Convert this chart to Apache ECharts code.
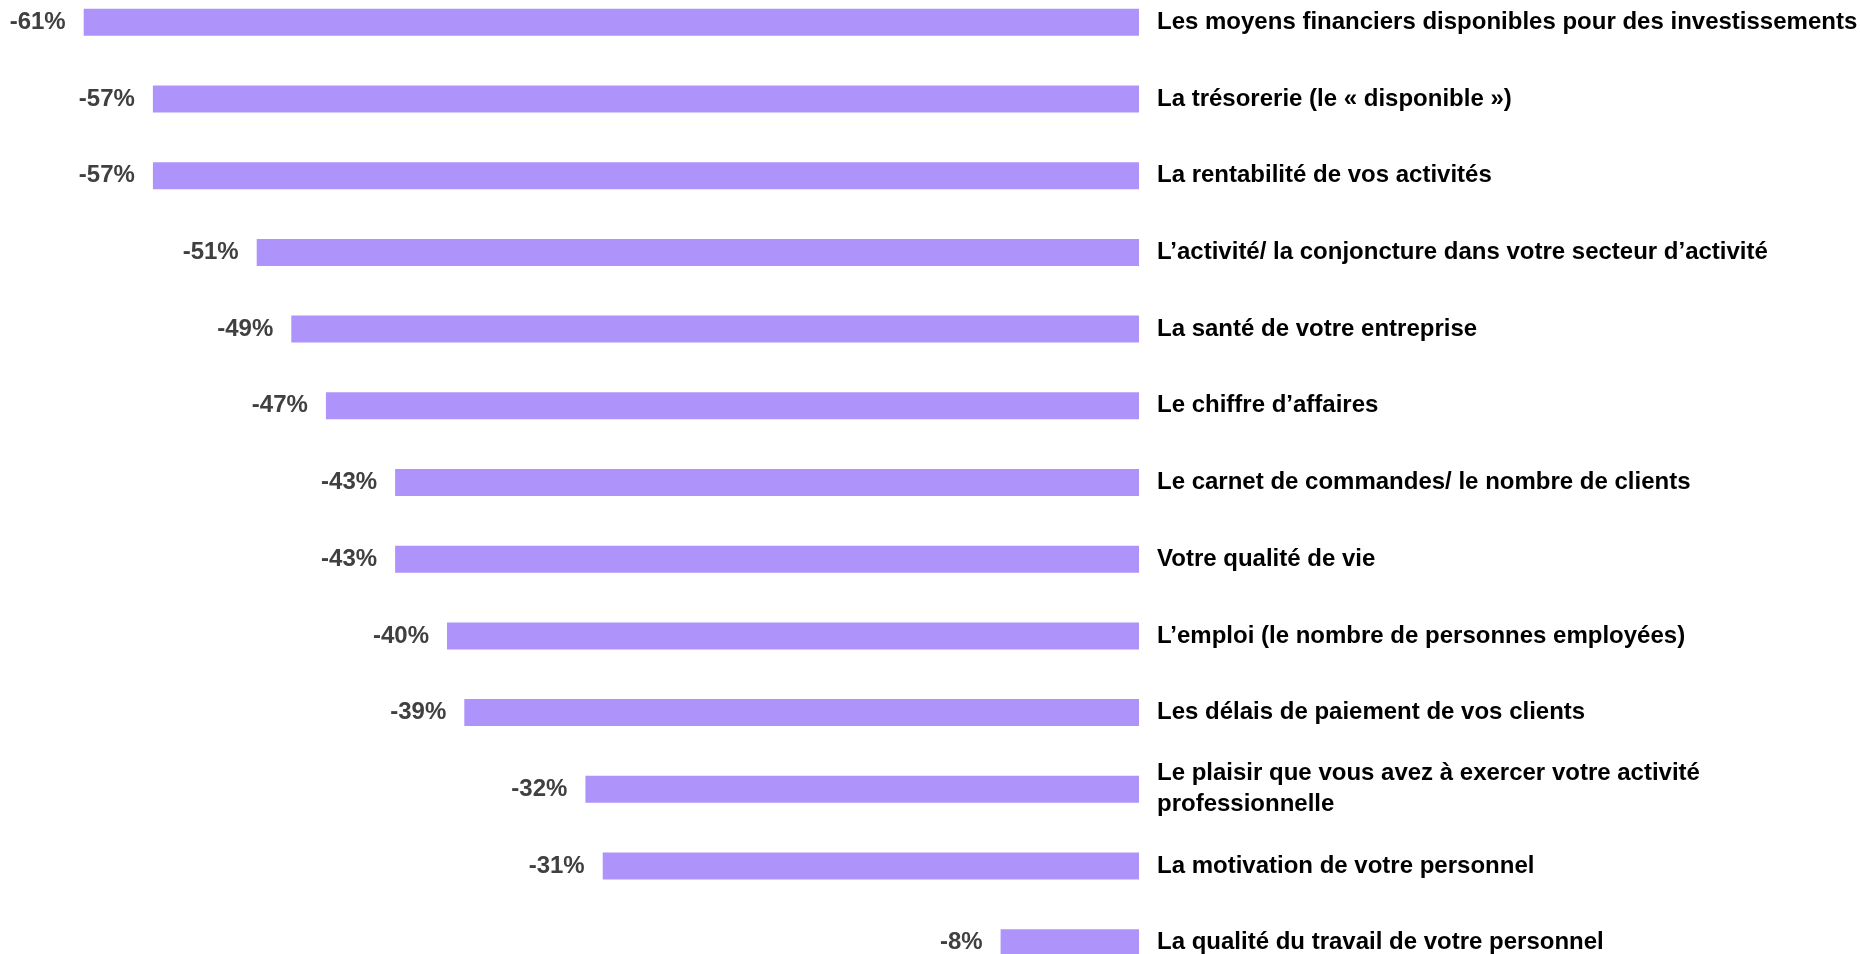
<!DOCTYPE html>
<html>
<head>
<meta charset="utf-8">
<script src="https://cdn.jsdelivr.net/npm/echarts@6/dist/echarts.min.js"></script>
<style>
  html, body { margin: 0; padding: 0; background: #fff; }
  #chart { width: 1860px; height: 954px; }
</style>
</head>
<body>
<div id="chart"></div>
<script>
const categories = [
  "Les moyens financiers disponibles pour des investissements",
  "La trésorerie (le « disponible »)",
  "La rentabilité de vos activités",
  "L’activité/ la conjoncture dans votre secteur d’activité",
  "La santé de votre entreprise",
  "Le chiffre d’affaires",
  "Le carnet de commandes/ le nombre de clients",
  "Votre qualité de vie",
  "L’emploi (le nombre de personnes employées)",
  "Les délais de paiement de vos clients",
  "Le plaisir que vous avez à exercer votre activité\nprofessionnelle",
  "La motivation de votre personnel",
  "La qualité du travail de votre personnel",
];
const values = [-61, -57, -57, -51, -49, -47, -43, -43, -40, -39, -32, -31, -8];

const chart = echarts.init(document.getElementById("chart"), null, { renderer: "canvas" });

const option = {
  animation: false,
  grid: {
    left: 14.5,
    right: 721,
    top: -16,
    height: 997,
    outerBoundsMode: "none",
    containLabel: false,
  },
  xAxis: {
    type: "value",
    min: -65,
    max: 0,
    show: false,
  },
  yAxis: {
    type: "category",
    data: categories,
    inverse: true,
    position: "right",
    axisLine: { show: false },
    axisTick: { show: false },
    axisLabel: {
      margin: 18,
      align: "left",
      color: "#000",
      fontFamily: "Liberation Sans, Arial, sans-serif",
      fontWeight: "bold",
      fontSize: 24,
      lineHeight: 31,
    },
  },
  series: [
    {
      type: "bar",
      data: values,
      barWidth: 27,
      itemStyle: { color: "#ae94fa" },
      label: {
        show: true,
        position: "left",
        distance: 18,
        formatter: (p) => p.value + "%",
        color: "#404040",
        fontFamily: "Liberation Sans, Arial, sans-serif",
        fontWeight: "bold",
        fontSize: 24,
      },
    },
  ],
};
chart.setOption(option);
</script>
</body>
</html>
